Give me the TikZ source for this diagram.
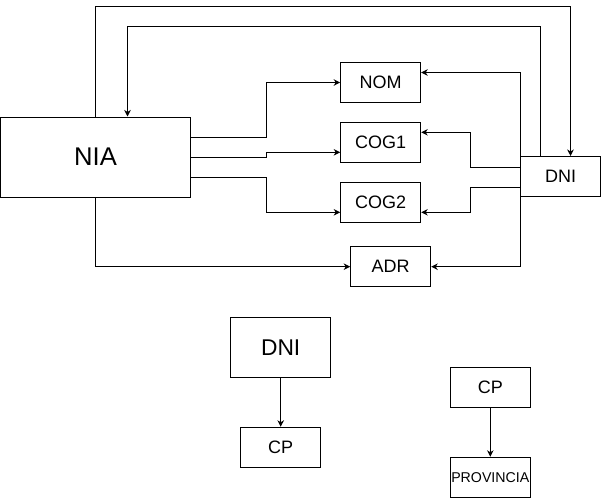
\documentclass[tikz,border=0pt]{standalone}
\usepackage{fontspec}
\setmainfont{Liberation Sans}
\usetikzlibrary{arrows.meta}

\begin{document}
\begin{tikzpicture}[x=1pt, y=-1pt]
  \tikzset{
    box/.style={draw, line width=1pt, inner sep=0pt, minimum width=80pt, minimum height=40pt,
      font=\fontsize{18}{20}\selectfont},
    arr/.style={line width=1pt, -{Stealth[length=6.5pt, width=6.5pt, inset=2pt]}}
  }

  % frame
  \useasboundingbox (0,0) rectangle (601,498);

  % boxes
  \node[box, minimum width=190pt, minimum height=80pt, font=\fontsize{25.6}{28}\selectfont] (NIA) at (95.5,157) {NIA};
  \node[box] (NOM) at (380.7,82.5) {NOM};
  \node[box] (COG1) at (380.7,142.3) {COG1};
  \node[box] (COG2) at (380.7,202.3) {COG2};
  \node[box] (ADR) at (390.7,266.7) {ADR};
  \node[box] (DNIr) at (560.5,176.5) {DNI};

  \node[box, minimum width=100pt, minimum height=60pt, font=\fontsize{22.8}{25}\selectfont] (DNIb) at (280.7,347.3) {DNI};
  \node[box] (CPa) at (280.7,447.3) {CP};
  \node[box] (CPb) at (490.3,387.3) {CP};
  \node[box, font=\fontsize{14.2}{16}\selectfont] (PROV) at (490.3,477.3) {PROVINCIA};

  % NIA <-> DNI
  \draw[arr] (NIA.north) -- ++(0,-110) -| ([xshift=10pt]DNIr.north);
  \draw[arr] ([xshift=-20pt]DNIr.north) -- ++(0,-129.5) -| ([xshift=32pt]NIA.north);

  % NIA -> fields
  \draw[arr] ([yshift=20pt]NIA.east) -- ++(75.5,0) |- (NOM.west);
  \draw[arr] (NIA.east) -- ++(75.5,0) |- ([yshift=-10pt]COG1.west);
  \draw[arr] ([yshift=-20pt]NIA.east) -- ++(75.5,0) |- ([yshift=-10pt]COG2.west);
  \draw[arr] (NIA.south) |- (ADR.west);

  % DNI -> fields
  \draw[arr] (DNIr.west) |- ([yshift=10pt]NOM.east);
  \draw[arr] ([yshift=9.5pt]DNIr.west) -- ++(-50,0) |- ([yshift=10pt]COG1.east);
  \draw[arr] ([yshift=-10.5pt]DNIr.west) -- ++(-50,0) |- ([yshift=-10pt]COG2.east);
  \draw[arr] (DNIr.west) |- (ADR.east);

  % dependencies below
  \draw[arr] (DNIb.south) -- (CPa.north);
  \draw[arr] (CPb.south) -- (PROV.north);
\end{tikzpicture}
\end{document}
